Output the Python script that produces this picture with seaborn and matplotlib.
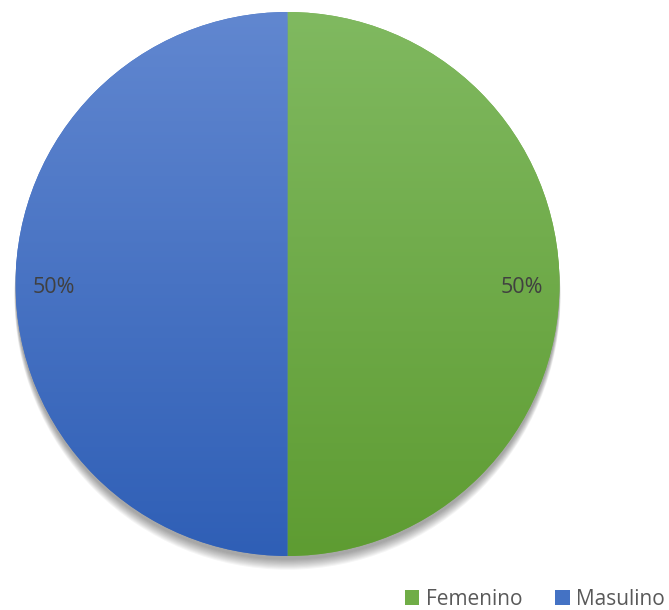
import numpy as np
import matplotlib
matplotlib.use("Agg")
import matplotlib.pyplot as plt
from matplotlib.colors import LinearSegmentedColormap
from matplotlib.patches import Circle, Patch
import seaborn as sns

labels = ["Femenino", "Masulino"]
values = [50, 50]
base_colors = ["#70AD47", "#4472C4"]
top_colors = ["#80B960", "#6187D0"]
bottom_colors = ["#5E9C32", "#2F5FB6"]

sns.set_theme(style="white")
plt.rcParams["font.family"] = ["Open Sans", "DejaVu Sans"]

fig = plt.figure(figsize=(6.69, 6.10), dpi=100)
ax = fig.add_axes([287.5 / 669 - 272 / 669, (610 - 556) / 610, 544 / 669, 544 / 610])
ax.set_aspect("equal")
ax.axis("off")

# soft drop shadow under the pie
for i in range(10):
    off = 0.003 * i
    ax.add_patch(Circle((0, -0.014 - off * 1.2), 1.0 + off * 0.15, color="black",
                        alpha=0.04, lw=0, zorder=0, clip_on=False))

wedges, texts, autotexts = ax.pie(
    values, labels=None, colors=base_colors, startangle=90, counterclock=False,
    autopct="%1.0f%%", pctdistance=0.86, radius=1.0,
    wedgeprops=dict(linewidth=0, edgecolor="none"),
)
for w in wedges:
    w.set_zorder(1)

# vertical colour gradient inside each wedge
grad = np.linspace(0, 1, 256).reshape(-1, 1)
for w, c_top, c_bot in zip(wedges, top_colors, bottom_colors):
    cmap = LinearSegmentedColormap.from_list("g", [c_top, c_bot])
    im = ax.imshow(grad, cmap=cmap, extent=(-1, 1, -1, 1), origin="upper",
                   aspect="auto", zorder=2, interpolation="bilinear")
    im.set_clip_path(w)

for t in autotexts:
    t.set_zorder(5)
    t.set_fontsize(15.5)
    t.set_color("#404040")
    x, y = t.get_position()
    t.set_position((x, y - 0.012))
ax.set_xlim(-1, 1)
ax.set_ylim(-1, 1)

handles = [Patch(facecolor=c, edgecolor="none") for c in base_colors]
fig.legend(handles, labels, loc="lower right", bbox_to_anchor=(1.022, -0.03), ncol=2,
           frameon=False, fontsize=15, handlelength=0.7, handleheight=0.7,
           handletextpad=0.3, columnspacing=1.6, labelcolor="#595959")

fig.savefig("out.png", dpi=100)
